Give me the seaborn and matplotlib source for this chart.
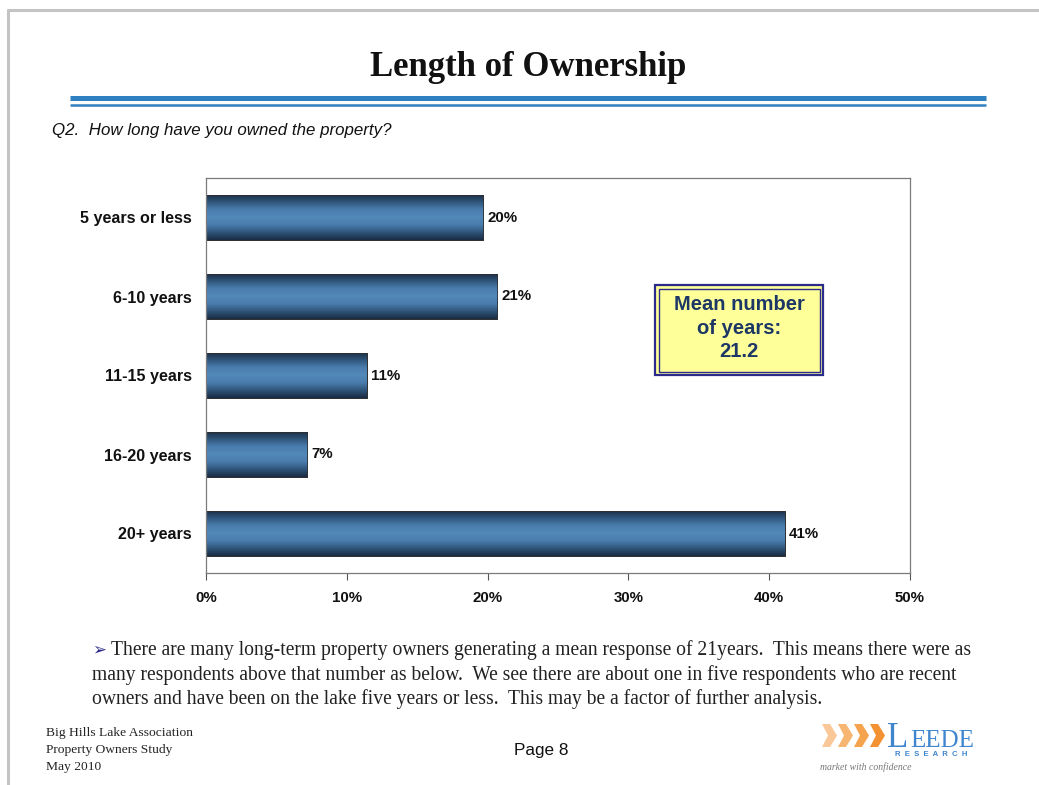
import numpy as np
import pandas as pd
import matplotlib
matplotlib.use("Agg")
import matplotlib.pyplot as plt
import seaborn as sns
from matplotlib.colors import LinearSegmentedColormap
from matplotlib.patches import Rectangle, Polygon
from matplotlib.lines import Line2D

categories = ["5 years or less", "6-10 years", "11-15 years", "16-20 years", "20+ years"]
shares = [19.7, 20.7, 11.4, 7.2, 41.1]
x_ticks = [0, 10, 20, 30, 40, 50]
x_tick_labels = ["0%", "10%", "20%", "30%", "40%", "50%"]
mean_years = 21.2

sns.set_theme(style="white")
plt.rcParams["font.family"] = ["Liberation Sans", "DejaVu Sans"]

W, H = 1039, 785
fig = plt.figure(figsize=(W / 100, H / 100), dpi=100)
fig.patch.set_facecolor("white")


def fx(px):
    return px / W


def fy(py):
    return 1 - py / H


# page frame
fig.add_artist(Line2D([fx(8), 1], [fy(10), fy(10)], color="#C4C4C4", lw=2.2))
fig.add_artist(Line2D([fx(8), fx(8)], [fy(10), 0], color="#C4C4C4", lw=2.2))

# heading
fig.text(fx(528), fy(68), "Length of Ownership", ha="center", va="center",
         fontsize=25, fontweight="bold", family=["Liberation Serif"], color="#111111")
fig.add_artist(Line2D([fx(70), fx(986)], [fy(97.5), fy(97.5)], color="#2E80C0", lw=3.6,
                      solid_capstyle="butt"))
fig.add_artist(Line2D([fx(70), fx(986)], [fy(105), fy(105)], color="#2E80C0", lw=1.8,
                      solid_capstyle="butt"))
fig.text(fx(52), fy(130), "Q2.  How long have you owned the property?", ha="left", va="center",
         fontsize=12.2, fontstyle="italic", color="#111111")

# chart
ax = fig.add_axes([fx(206), fy(573), fx(910) - fx(206), fy(178) - fy(573)])
df = pd.DataFrame({"category": categories, "share": shares})
sns.barplot(data=df, x="share", y="category", orient="h", ax=ax, color="#4A7DAE",
            width=0.58, edgecolor="#2A2A2A", linewidth=0.6)

ax.set_xlim(0, 50)
ax.set_ylim(4.5, -0.5)
ax.set_xlabel("")
ax.set_ylabel("")

# shaded bar fill
grad = LinearSegmentedColormap.from_list(
    "barshade", ["#1A2B42", "#2F5479", "#4A7DAD", "#5288BA", "#4A7DAD", "#2F5479", "#1A2B42"])
shade = np.linspace(0, 1, 256).reshape(-1, 1)
for patch in ax.patches:
    x0, y0 = patch.get_x(), patch.get_y()
    w, h = patch.get_width(), patch.get_height()
    im = ax.imshow(shade, cmap=grad, aspect="auto", extent=[x0, x0 + w, y0 + h, y0],
                   zorder=patch.get_zorder() + 0.1, interpolation="bilinear")
    im.set_clip_path(patch)
    ax.add_patch(Rectangle((x0, y0), w, h, fill=False, edgecolor="#303030", lw=0.6,
                           zorder=patch.get_zorder() + 0.2))

for i, v in enumerate(shares):
    ax.text(v + 0.3, i, f"{v:.0f}%", ha="left", va="center", fontsize=10.8,
            fontweight="bold", color="#111111")

ax.set_xticks(x_ticks)
ax.set_xticklabels(x_tick_labels, fontsize=10.8, fontweight="bold", color="#111111")
ax.set_yticks(range(len(categories)))
ax.set_yticklabels(categories, fontsize=11.6, fontweight="bold", color="#111111")
ax.set_yticks(np.arange(-0.5, len(categories), 1), minor=True)
ax.tick_params(axis="y", which="major", length=0, pad=10)
ax.tick_params(axis="y", which="minor", length=5, color="#555555", width=0.8, direction="out")
ax.tick_params(axis="x", which="major", length=5, color="#555555", width=0.8,
               direction="out", pad=8, bottom=True)
for s in ax.spines.values():
    s.set_color("#7A7A7A")
    s.set_linewidth(0.9)

# mean callout
fig.add_artist(Rectangle((fx(655), fy(375)), fx(823) - fx(655), fy(285) - fy(375),
                         facecolor="#FFFF99", edgecolor="#2B2B8C", lw=1.6))
fig.add_artist(Rectangle((fx(658.5), fy(371.5)), fx(819.5) - fx(658.5), fy(288.5) - fy(371.5),
                         facecolor="none", edgecolor="#2B2B8C", lw=1.0))
fig.text(fx(739), fy(328), f"Mean number\nof years:\n{mean_years}", ha="center", va="center",
         fontsize=14.5, fontweight="bold", color="#1C3766", linespacing=1.3)

# commentary
body = ["There are many long-term property owners generating a mean response of 21years.  This means there were as",
        "many respondents above that number as below.  We see there are about one in five respondents who are recent",
        "owners and have been on the lake five years or less.  This may be a factor of further analysis."]
fig.text(fx(92), fy(650), "\u27a2", ha="left", va="center", fontsize=12, color="#2A2A8A",
         family=["DejaVu Sans"])
fig.text(fx(111), fy(650), body[0], ha="left", va="center", fontsize=14.1,
         family=["Liberation Serif"], color="#222222")
fig.text(fx(92), fy(675), body[1], ha="left", va="center", fontsize=14.1,
         family=["Liberation Serif"], color="#222222")
fig.text(fx(92), fy(699), body[2], ha="left", va="center", fontsize=14.1,
         family=["Liberation Serif"], color="#222222")

# footer
for i, line in enumerate(["Big Hills Lake Association", "Property Owners Study", "May 2010"]):
    fig.text(fx(46), fy(733 + 17 * i), line, ha="left", va="center", fontsize=9.7,
             family=["Liberation Serif"], color="#222222")
fig.text(fx(541), fy(751), "Page 8", ha="center", va="center", fontsize=12.3, color="#111111")

# logo
oranges = ["#FAC898", "#F7B572", "#F5A34F", "#F29232"]
for i, c in enumerate(oranges):
    x0 = 822 + 16 * i
    pts = [(x0, 724), (x0 + 8, 724), (x0 + 15, 735.5), (x0 + 8, 747), (x0, 747), (x0 + 6, 735.5)]
    fig.add_artist(Polygon([(fx(a), fy(b)) for a, b in pts], closed=True, facecolor=c,
                           edgecolor="none"))
fig.text(fx(887), fy(747), "L", ha="left", va="baseline", fontsize=25,
         family=["Liberation Serif"], color="#3F86CF")
fig.text(fx(910), fy(747), "EEDE", ha="left", va="baseline", fontsize=18,
         family=["Liberation Serif"], color="#3F86CF")
fig.text(fx(931), fy(755), "R  E  S  E  A  R  C  H", ha="center", va="center", fontsize=5.6,
         fontweight="bold", color="#3F86CF")
fig.text(fx(820), fy(767), "market with confidence", ha="left", va="center", fontsize=7,
         fontstyle="italic", family=["Liberation Serif"], color="#777777")

fig.savefig("out.png", dpi=100, facecolor="white")
